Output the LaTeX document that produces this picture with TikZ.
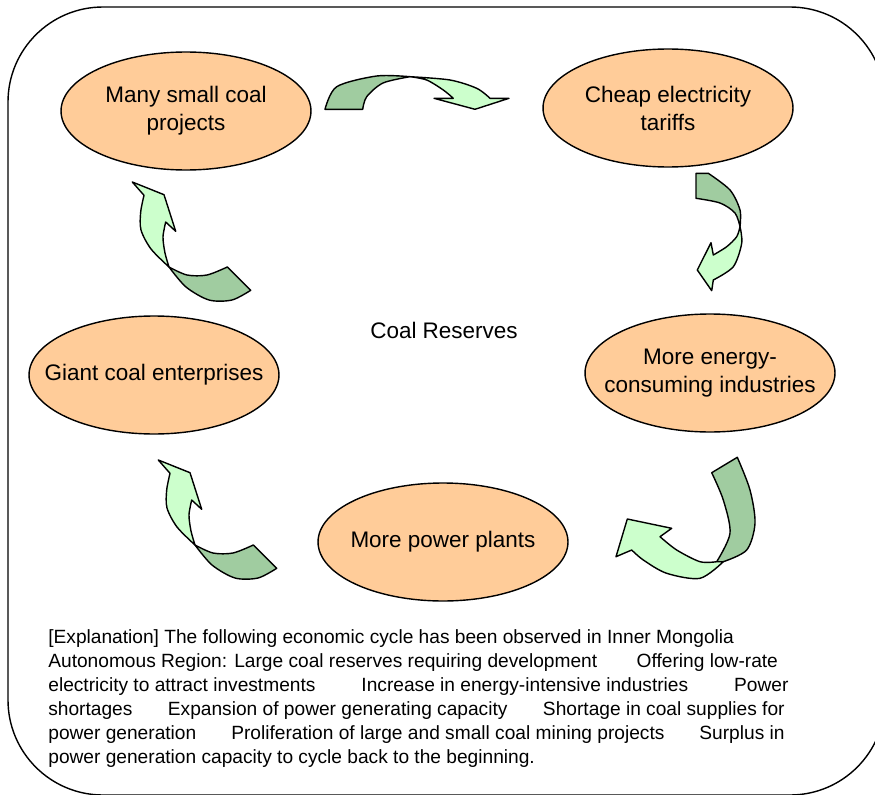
\documentclass[tikz,border=0pt]{standalone}
\usepackage{fontspec}
\setmainfont{Liberation Sans}
\usetikzlibrary{positioning, shapes.geometric}
\definecolor{stagefill}{RGB}{255,204,153}
\definecolor{arrowlight}{RGB}{204,255,204}
\definecolor{arrowdark}{RGB}{160,204,160}

\begin{document}
\begin{tikzpicture}[
        x=0.02cm, y=-0.02cm,
        stage/.style={ellipse, draw=black, fill=stagefill, line width=0.8pt, minimum width=5cm, minimum height=2.36cm, align=center, inner xsep=-0.6cm, inner ysep=0pt, font=\fontsize{12.8}{15.9}\selectfont},
        darkpart/.style={draw=black, fill=arrowdark, line width=0.8pt, line join=round},
        lightpart/.style={draw=black, fill=arrowlight, line width=0.8pt, line join=round},
        frame/.style={draw=black, line width=0.8pt, rounded corners=1.9cm}
    ]
        \useasboundingbox (0,0) rectangle (875,794);
        \draw[frame] (8,7) rectangle (885,795);

        % Stages of the cycle
        \node[stage] (many) at (186,111) {Many small coal\\projects};
        \node[stage] (cheap) at (668,108) {Cheap electricity\\tariffs};
        \node[stage] (energy) at (710,373) {More energy-\\consuming industries};
        \node[stage] (plants) at (443,542) {More power plants};
        \node[stage] (giant) at (154,375) {Giant coal enterprises};
        \node[font=\fontsize{12.8}{15.9}\selectfont] (reserves) at (444,330) {Coal Reserves};

        % Bent arrows between the stages
        \filldraw[darkpart] plot[smooth] coordinates {(325,109.3) (336.7,86.7) (376.7,76) (410,76.7)}
            -- plot[smooth] coordinates {(410,76.7) (383,83) (366.7,96.7) (362.7,109.3)} -- cycle;
        \filldraw[lightpart] plot[smooth] coordinates {(410,76.7) (450,80) (476.7,88.3) (490,98.3)}
            -- (509,98.3) -- (475,109.3) -- (434,98.3) -- (453.3,98.3)
            -- plot[smooth] coordinates {(453.3,98.3) (443.3,90) (426.7,80) (410,76.7)} -- cycle;

        \filldraw[darkpart] (696,173.3) -- (708.3,173.3)
            -- plot[smooth] coordinates {(708.3,173.3) (730,190) (740,210) (740,226.7)}
            -- plot[smooth] coordinates {(740,226.7) (735,213) (720,203) (696,198.3)} -- cycle;
        \filldraw[lightpart] plot[smooth] coordinates {(740,226.7) (741.7,243.3) (733.3,266.7) (713.3,280)}
            -- (711.7,290.7) -- (697.3,270) -- (711,242.7) -- (713.3,255)
            -- plot[smooth] coordinates {(713.3,255) (726.7,246.7) (736.7,236.7) (740,226.7)} -- cycle;

        \filldraw[darkpart] (711.7,472.7) -- (737.3,457.3)
            -- plot[smooth] coordinates {(737.3,457.3) (750,490) (755,523.3) (746.7,550) (723.3,561.7)}
            -- (716.7,561.7)
            -- plot[smooth] coordinates {(716.7,561.7) (730,533.3) (723.3,500) (711.7,472.7)} -- cycle;
        \filldraw[lightpart] plot[smooth] coordinates {(723.3,561.7) (700,578.3) (666.7,573.3) (643.3,560) (631.7,550)}
            -- (616,556.7) -- (627.3,519) -- (671.7,528.3) -- (660,536.7)
            -- plot[smooth] coordinates {(660,536.7) (676.7,550) (700,561.7) (716.7,561.7)} -- cycle;

        \foreach \dx/\dy in {0/0, -26/-278} {
            \begin{scope}[shift={(\dx,\dy)}]
                \filldraw[darkpart] plot[smooth] coordinates {(195,545) (213,553) (233,553) (253.3,545)}
                    -- (276.7,568.3)
                    -- plot[smooth] coordinates {(276.7,568.3) (258,578) (235,578) (212,565) (195,545)} -- cycle;
                \filldraw[lightpart] (158.3,460) -- (190,472.7) -- (201.7,509.3) -- (191.7,500)
                    -- plot[smooth] coordinates {(191.7,500) (189,515) (191,531) (195,545)}
                    -- plot[smooth] coordinates {(195,545) (177,527) (167,508) (166.7,490) (170,473.3)} -- cycle;
            \end{scope}
        }

        % Explanation below the cycle
        \node[anchor=north west, inner sep=0pt, align=left, font=\fontsize{10.9}{13.66}\selectfont] (explain) at (48,629)
            {[Explanation] The following economic cycle has been observed in Inner Mongolia\\
             Autonomous Region: Large coal reserves requiring development\hspace{0.79cm}Offering low-rate\\
             electricity to attract investments\hspace{0.92cm}Increase in energy-intensive industries\hspace{0.92cm}Power\\
             shortages\hspace{0.71cm}Expansion of power generating capacity\hspace{0.71cm}Shortage in coal supplies for\\
             power generation\hspace{0.7cm}Proliferation of large and small coal mining projects\hspace{0.7cm}Surplus in\\
             power generation capacity to cycle back to the beginning.};
    \end{tikzpicture}
\end{document}
